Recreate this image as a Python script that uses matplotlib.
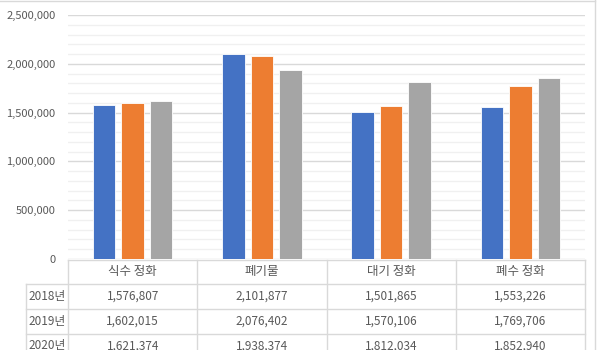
import matplotlib.pyplot as plt
import matplotlib.transforms as mtransforms
from matplotlib.ticker import FuncFormatter, MultipleLocator
import numpy as np

plt.rcParams['font.family'] = ['Noto Sans CJK KR', 'DejaVu Sans']

categories = ['식수 정화', '폐기물', '대기 정화', '폐수 정화']
years = ['2018년', '2019년', '2020년']
v2018 = [1576807, 2101877, 1501865, 1553226]
v2019 = [1602015, 2076402, 1570106, 1769706]
v2020 = [1621374, 1938374, 1812034, 1852940]
series = [v2018, v2019, v2020]
colors = ['#4472C4', '#ED7D31', '#A5A5A5']

txt = '#595959'
grid_major = '#D9D9D9'
grid_minor = '#F0F0F0'
W, H = 600, 350

fig = plt.figure(figsize=(6, 3.5), dpi=100)
ax = fig.add_axes([68 / W, 1 - 259 / H, (585 - 68) / W, (259 - 15) / H])

x = np.arange(len(categories))
offsets = [-0.22, 0.0, 0.22]
for vals, off, c in zip(series, offsets, colors):
    ax.bar(x + off, vals, width=0.175, color=c, edgecolor='white', linewidth=0.6, zorder=3)

ax.set_xlim(-0.5, 3.5)
ax.set_ylim(0, 2500000)
ax.yaxis.set_major_locator(MultipleLocator(500000))
ax.yaxis.set_minor_locator(MultipleLocator(100000))
ax.yaxis.set_major_formatter(FuncFormatter(lambda v, p: f'{int(v):,}'))
ax.grid(axis='y', which='major', color=grid_major, linewidth=1, zorder=0)
ax.grid(axis='y', which='minor', color=grid_minor, linewidth=1, zorder=0)
ax.tick_params(axis='y', which='both', length=0, pad=9, labelsize=8, labelcolor=txt)
ax.tick_params(axis='x', which='both', length=0, labelbottom=False)
for s in ax.spines.values():
    s.set_visible(False)

# data table under the plot
tr = mtransforms.blended_transform_factory(ax.transData, fig.transFigure)
fy = lambda py: 1 - py / H
row_lines = [259.5, 284, 309, 334]
for i, py in enumerate(row_lines):
    x0 = -0.5 if i == 0 else -0.5 - 42 / 129.25
    ax.plot([x0, 3.5], [fy(py), fy(py)], transform=tr, color=grid_major,
            linewidth=1, clip_on=False)
for b in np.arange(-0.5, 4.0, 1.0):
    ax.plot([b, b], [fy(259.5), 0], transform=tr, color=grid_major,
            linewidth=1, clip_on=False)
ax.plot([-0.5 - 42 / 129.25] * 2, [fy(284), 0], transform=tr, color=grid_major,
        linewidth=1, clip_on=False)

for i, cat in enumerate(categories):
    ax.text(i, fy(272), cat, transform=tr, ha='center', va='center',
            fontsize=9, color=txt, clip_on=False)
row_y = [296.5, 321.5, 346]
for yr, vals, py in zip(years, series, row_y):
    ax.text(-0.5 - 21 / 129.25, fy(py), yr, transform=tr, ha='center', va='center',
            fontsize=8.5, color=txt, clip_on=False)
    for i, v in enumerate(vals):
        ax.text(i, fy(py), f'{v:,}', transform=tr, ha='center', va='center',
                fontsize=8.5, color=txt, clip_on=False)

# chart area border
fig.add_artist(plt.Line2D([0, 595 / W], [1 - 0.5 / H] * 2, color=grid_major, linewidth=1))
fig.add_artist(plt.Line2D([595 / W] * 2, [0, 1], color=grid_major, linewidth=1))

fig.savefig('out.png', dpi=100, facecolor='white')
